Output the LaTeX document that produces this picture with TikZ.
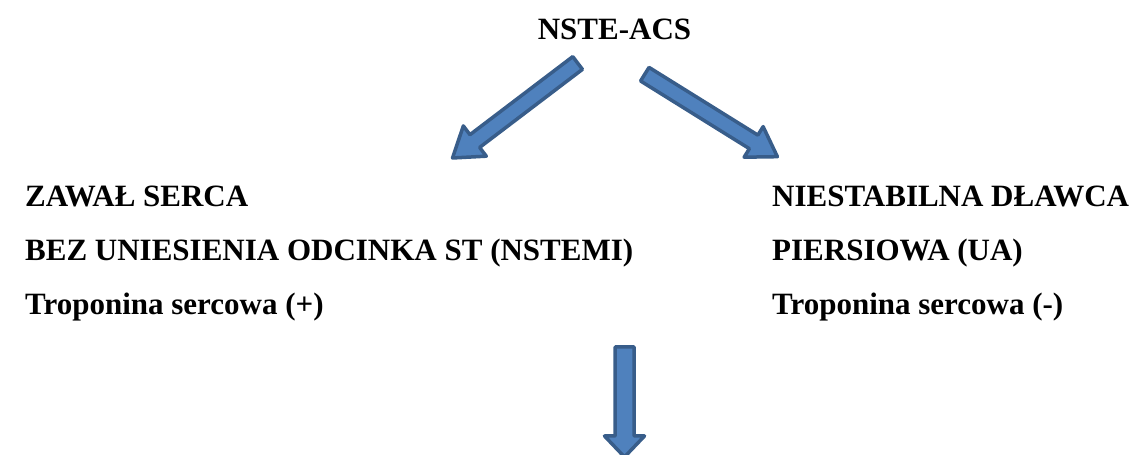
\documentclass[tikz,border=0pt]{standalone}
\usepackage{fontspec}
\setmainfont{Liberation Serif}
\usepackage{tikz}
\usetikzlibrary{positioning}
\usetikzlibrary{calc}
\definecolor{arrowfill}{HTML}{4F81BD}
\definecolor{arrowline}{HTML}{385D8A}
\tikzstyle{heading} = [inner sep=0pt, font=\fontsize{31}{37}\selectfont\bfseries, text=black]
\tikzstyle{blockarrow} = [fill=arrowfill, draw=arrowline, line width=3.5pt, line join=round]
% block arrow from #1 to #2: shaft width, head width, head length
\newcommand{\blockarrow}[5]{%
  \draw[blockarrow] let \p1=($(#2)-(#1)$), \n1={atan2(\y1,\x1)}, \n2={veclen(\x1,\y1)} in
    [shift={(#1)}, rotate=\n1]
    (0,-#3/2) -- (\n2-#5,-#3/2) -- (\n2-#5,-#4/2) -- (\n2,0) -- (\n2-#5,#4/2) -- (\n2-#5,#3/2) -- (0,#3/2) -- cycle;}

\begin{document}
\begin{tikzpicture}[x=1pt, y=1pt]
\clip (0,0) rectangle (1144,455);
\node (nsteacs) [heading, anchor=base] at (614.5,415) {NSTE-ACS};
\node (zawal) [heading, anchor=base west] at (25,248) {ZAWAŁ SERCA};
\node (bezst) [heading, anchor=base west] at ([yshift=-54pt]zawal.base west) {BEZ UNIESIENIA ODCINKA ST (NSTEMI)};
\node (tropplus) [heading, anchor=base west] at ([yshift=-54pt]bezst.base west) {Troponina sercowa (+)};
\node (niestab) [heading, anchor=base west] at (772,248) {NIESTABILNA DŁAWCA};
\node (piersiowa) [heading, anchor=base west] at ([yshift=-54pt]niestab.base west) {PIERSIOWA (UA)};
\node (tropminus) [heading, anchor=base west] at ([yshift=-54pt]piersiowa.base west) {Troponina sercowa (-)};
\coordinate (lefttail) at (577.6,392);
\coordinate (lefttip) at (452.5,297);
\coordinate (righttail) at (644.8,380.8);
\coordinate (righttip) at (777.4,298.3);
\coordinate (downtail) at (624.5,108);
\coordinate (downtip) at (624.5,-2);
\blockarrow{lefttail}{lefttip}{16}{38}{28}
\blockarrow{righttail}{righttip}{16}{36}{28}
\blockarrow{downtail}{downtip}{19}{40}{21}
\end{tikzpicture}
\end{document}
